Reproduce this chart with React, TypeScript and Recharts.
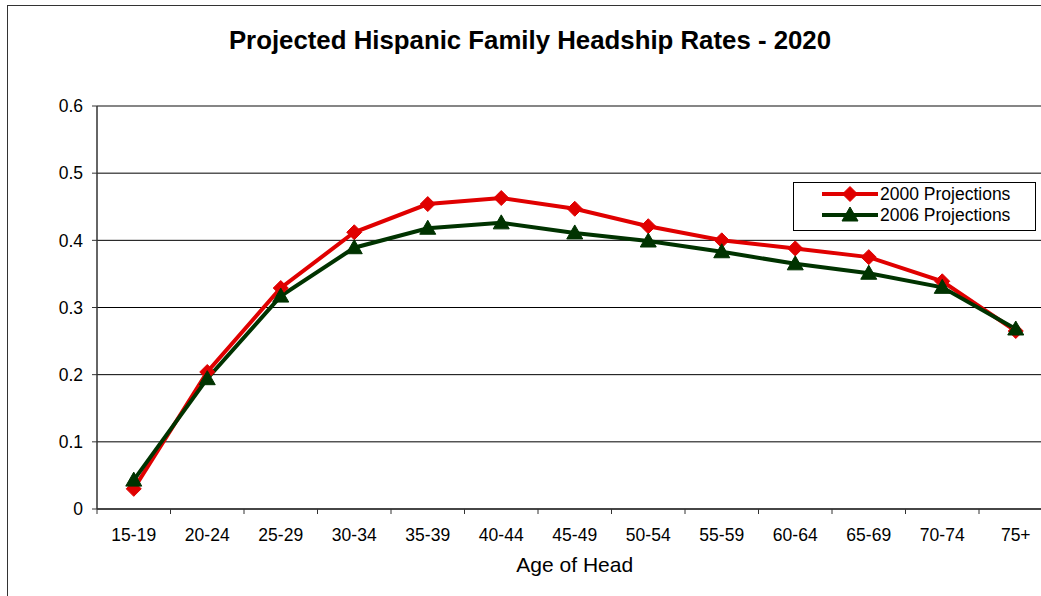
import React from "react";
import { LineChart, Line, XAxis, YAxis, CartesianGrid, ReferenceLine } from "recharts";

const ageGroups = ["15-19", "20-24", "25-29", "30-34", "35-39", "40-44", "45-49", "50-54", "55-59", "60-64", "65-69", "70-74", "75+"];
const proj2000 = [0.03, 0.204, 0.329, 0.412, 0.454, 0.463, 0.447, 0.421, 0.4, 0.388, 0.375, 0.339, 0.265];
const proj2006 = [0.043, 0.194, 0.317, 0.389, 0.418, 0.426, 0.411, 0.399, 0.383, 0.365, 0.351, 0.33, 0.268];
const yTicks = [0, 0.1, 0.2, 0.3, 0.4, 0.5, 0.6];

const RED = "#e00000";
const GREEN = "#003300";
const FONT = "'Liberation Sans', Arial, sans-serif";

const data = ageGroups.map((age, i) => ({ age, pos: i + 0.5, p2000: proj2000[i], p2006: proj2006[i] }));
const labelTicks = ageGroups.map((_, i) => i + 0.5);
const boundaryTicks = [...ageGroups.map((_, i) => i), ageGroups.length];

const Diamond = (props: any) => {
  const { cx, cy } = props;
  if (cx == null || cy == null) return null;
  const r = 7.5;
  return <polygon points={`${cx},${cy - r} ${cx + r},${cy} ${cx},${cy + r} ${cx - r},${cy}`} fill={RED} stroke={RED} />;
};

const Triangle = (props: any) => {
  const { cx, cy } = props;
  if (cx == null || cy == null) return null;
  const r = 8;
  return <polygon points={`${cx},${cy - r} ${cx + r},${cy + r * 0.75} ${cx - r},${cy + r * 0.75}`} fill={GREEN} stroke={GREEN} />;
};

const BoundaryTick = (props: any) => {
  const { x, y } = props;
  return <line x1={x} x2={x} y1={y - 8} y2={y - 3} stroke="#333" strokeWidth={1} />;
};

export default function App() {
  return (
    <div style={{ position: "absolute", left: 0, top: 0, width: 1041, height: 596, overflow: "hidden", background: "#fff", fontFamily: FONT }}>
      <div style={{ position: "absolute", left: 7, top: 5, width: 1100, height: 700, border: "1px solid #333", boxSizing: "border-box" }} />
      <div style={{ position: "absolute", left: 0, top: 0 }}>
        <LineChart width={1060} height={596} data={data} margin={{ top: 106, right: 7.5, bottom: 0, left: 0 }}>
          <CartesianGrid vertical={false} stroke="#000" strokeWidth={1} />
          <ReferenceLine xAxisId="b" y={0.6} stroke="#888" strokeWidth={1.5} />
          <XAxis
            xAxisId="b"
            type="number"
            dataKey="pos"
            domain={[0, ageGroups.length]}
            ticks={boundaryTicks}
            height={6}
            axisLine={{ stroke: "#333", strokeWidth: 1.5 }}
            tickLine={false}
            tick={<BoundaryTick />}
            interval={0}
          />
          <XAxis
            xAxisId="l"
            type="number"
            dataKey="pos"
            domain={[0, ageGroups.length]}
            ticks={labelTicks}
            tickFormatter={(v: number) => ageGroups[Math.round(v - 0.5)]}
            height={81}
            axisLine={false}
            tickLine={false}
            interval={0}
            tick={{ fill: "#000", fontSize: 17.5, fontFamily: FONT, dy: 6 }}
            label={{ value: "Age of Head", position: "insideTop", offset: 42, fill: "#000", fontSize: 21, fontFamily: FONT }}
          />
          <YAxis
            domain={[0, 0.6]}
            ticks={yTicks}
            width={97}
            axisLine={{ stroke: "#333", strokeWidth: 1.5 }}
            tickLine={{ stroke: "#333" }}
            tickSize={5}
            tickMargin={9}
            tickFormatter={(v: number) => (v === 0 ? "0" : v.toFixed(1))}
            tick={{ fill: "#000", fontSize: 17.5, fontFamily: FONT }}
          />
          <Line xAxisId="b" type="linear" dataKey="p2000" stroke={RED} strokeWidth={4} dot={<Diamond />} activeDot={false} isAnimationActive={false} />
          <Line xAxisId="b" type="linear" dataKey="p2006" stroke={GREEN} strokeWidth={4} dot={<Triangle />} activeDot={false} isAnimationActive={false} />
          <text x={530} y={49} textAnchor="middle" fontSize={25.8} fontWeight="bold" fontFamily={FONT} fill="#000">
            Projected Hispanic Family Headship Rates - 2020
          </text>
        </LineChart>
      </div>
      <div style={{ position: "absolute", left: 793, top: 182, width: 243, height: 49, border: "1.5px solid #000", boxSizing: "border-box", background: "#fff" }}>
        <svg width={240} height={46} style={{ position: "absolute", left: 0, top: 0 }}>
          <line x1={28} x2={84} y1={11} y2={11} stroke={RED} strokeWidth={4} />
          <Diamond cx={56} cy={11} />
          <text x={86} y={17} fontSize={17.5} fontFamily={FONT} fill="#000">2000 Projections</text>
          <line x1={28} x2={84} y1={32} y2={32} stroke={GREEN} strokeWidth={4} />
          <Triangle cx={56} cy={32} />
          <text x={86} y={38} fontSize={17.5} fontFamily={FONT} fill="#000">2006 Projections</text>
        </svg>
      </div>
    </div>
  );
}
